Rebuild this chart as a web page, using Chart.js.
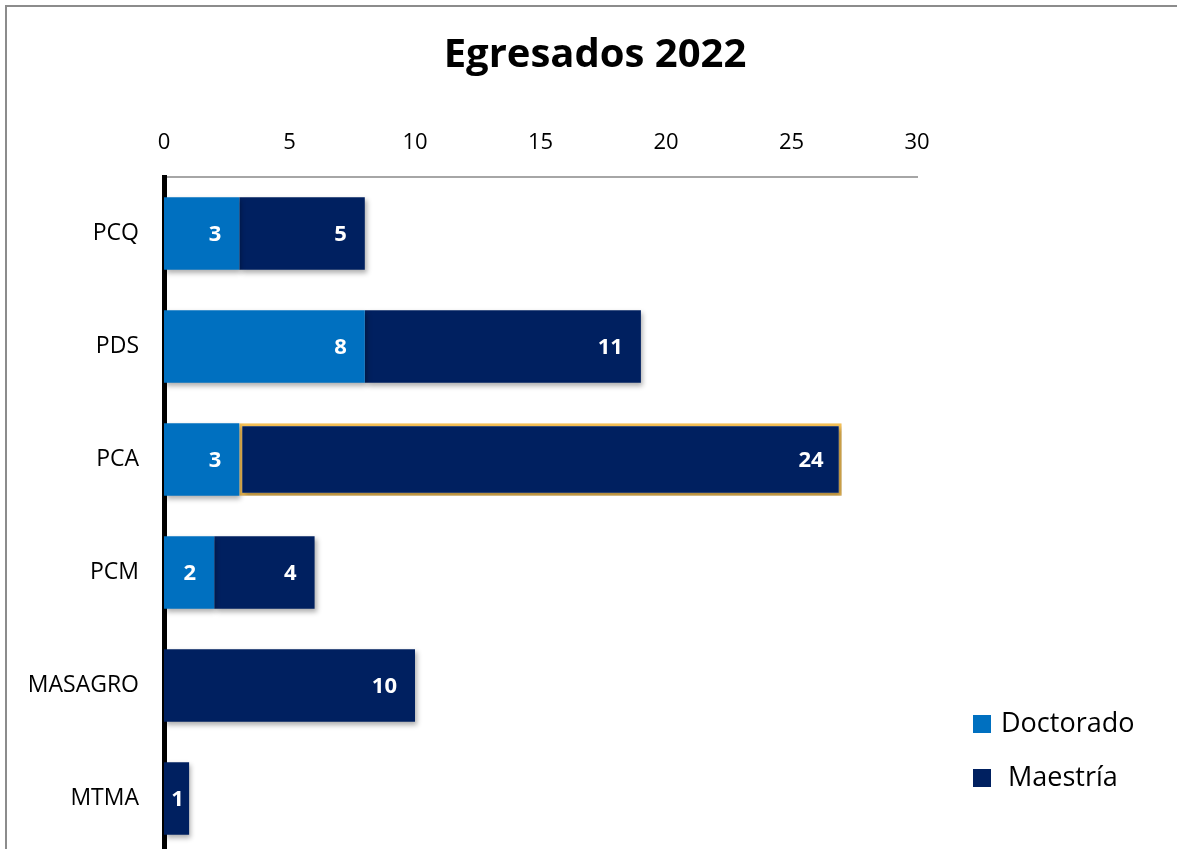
<!DOCTYPE html>
<html>
<head>
<meta charset="utf-8">
<script src="https://cdn.jsdelivr.net/npm/chart.js@4.4.0/dist/chart.umd.min.js"></script>
<style>
  html, body { margin: 0; padding: 0; background: #fff; overflow: hidden; }
  #frame { position: absolute; left: 5px; top: 5px; width: 1400px; height: 1000px;
           border-left: 2px solid #8c8c8c; border-top: 2px solid #8c8c8c; }
  #chart { position: absolute; left: 0; top: 0; }
</style>
</head>
<body>
<div id="frame"></div>
<canvas id="chart" width="1177" height="862"></canvas>
<script>
const categories = ['PCQ', 'PDS', 'PCA', 'PCM', 'MASAGRO', 'MTMA'];
const doctorado = [3, 8, 3, 2, 0, 0];
const maestria = [5, 11, 24, 4, 10, 1];
const xTicks = [0, 5, 10, 15, 20, 25, 30];
const seriesNames = ['Doctorado', ' Maestría'];

const FONT = "'Open Sans', sans-serif";
const BLUE = '#0070C0';
const NAVY = '#002060';
const GOLD = '#F7C256';

// bar shadows like the Excel "outer shadow" effect
const shadowPlugin = {
    id: 'shadow',
    beforeDatasetsDraw(chart) {
        const ctx = chart.ctx;
        ctx.save();
        ctx.shadowColor = 'rgba(0,0,0,0.32)';
        ctx.shadowBlur = 5;
        ctx.shadowOffsetX = 2;
        ctx.shadowOffsetY = 3;
    },
    afterDatasetsDraw(chart) {
        chart.ctx.restore();
    },
};

const labelsPlugin = {
    id: 'barLabels',
    afterDatasetsDraw(chart) {
        const ctx = chart.ctx;
        ctx.save();
        ctx.font = `bold 22px ${FONT}`;
        ctx.fillStyle = '#fff';
        ctx.textBaseline = 'middle';
        chart.data.datasets.forEach((ds, i) => {
            chart.getDatasetMeta(i).data.forEach((bar, j) => {
                const v = ds.data[j];
                if (!v) return;
                const { x, base, y } = bar.getProps(['x', 'base', 'y'], true);
                const txt = String(v);
                const w = ctx.measureText(txt).width;
                if (x - base < w + 24) {
                    ctx.textAlign = 'center';
                    ctx.fillText(txt, (x + base) / 2 + 1, y + 1);
                } else {
                    ctx.textAlign = 'right';
                    ctx.fillText(txt, x - 18, y + 1);
                }
            });
        });
        ctx.restore();
    },
};

const decorPlugin = {
    id: 'decor',
    afterDraw(chart) {
        const ctx = chart.ctx;
        ctx.save();
        // title
        ctx.fillStyle = '#000';
        ctx.font = `bold 40px ${FONT}`;
        ctx.textAlign = 'center';
        ctx.textBaseline = 'middle';
        ctx.fillText('Egresados 2022', 595, 56);
        // legend
        ctx.font = `27px ${FONT}`;
        ctx.textAlign = 'left';
        chart.data.datasets.forEach((ds, i) => {
            const cy = 724 + i * 54;
            ctx.fillStyle = ds.backgroundColor;
            ctx.fillRect(973, cy - 9, 18, 18);
            ctx.fillStyle = '#000';
            ctx.fillText(ds.label, 1001, cy);
        });
        ctx.restore();
    },
};

new Chart(document.getElementById('chart'), {
    type: 'bar',
    data: {
        labels: categories,
        datasets: [
            {
                label: seriesNames[0],
                data: doctorado,
                backgroundColor: BLUE,
                borderWidth: 0,
                barPercentage: 0.64,
                categoryPercentage: 1,
            },
            {
                label: seriesNames[1],
                data: maestria,
                backgroundColor: NAVY,
                borderColor: categories.map((c, i) => i === 2 ? GOLD : NAVY),
                borderWidth: categories.map((c, i) => i === 2 ? 3 : 0),
                borderSkipped: false,
                barPercentage: 0.64,
                categoryPercentage: 1,
            },
        ],
    },
    options: {
        indexAxis: 'y',
        responsive: false,
        animation: false,
        layout: { padding: { left: 0, right: 260, top: 0, bottom: 7 } },
        plugins: {
            legend: { display: false },
            title: { display: false },
            tooltip: { enabled: false },
        },
        scales: {
            x: {
                position: 'top',
                stacked: true,
                min: 0,
                max: 30,
                afterBuildTicks: axis => { axis.ticks = xTicks.map(v => ({ value: v })); },
                afterFit: axis => { axis.height = 177; },
                grid: { display: false, drawTicks: false },
                border: { display: true, color: '#A6A6A6', width: 2 },
                ticks: { font: { family: FONT, size: 22 }, color: '#000', padding: 21, maxRotation: 0 },
            },
            y: {
                stacked: true,
                afterFit: axis => {
                    axis.width = 164;
                    axis.paddingTop = 0;
                    axis.paddingBottom = 0;
                },
                grid: { display: false, drawTicks: false },
                border: { display: true, color: '#000', width: 5 },
                ticks: { font: { family: FONT, size: 23 }, color: '#000', padding: 25 },
            },
        },
    },
    plugins: [shadowPlugin, labelsPlugin, decorPlugin],
});
</script>
</body>
</html>
